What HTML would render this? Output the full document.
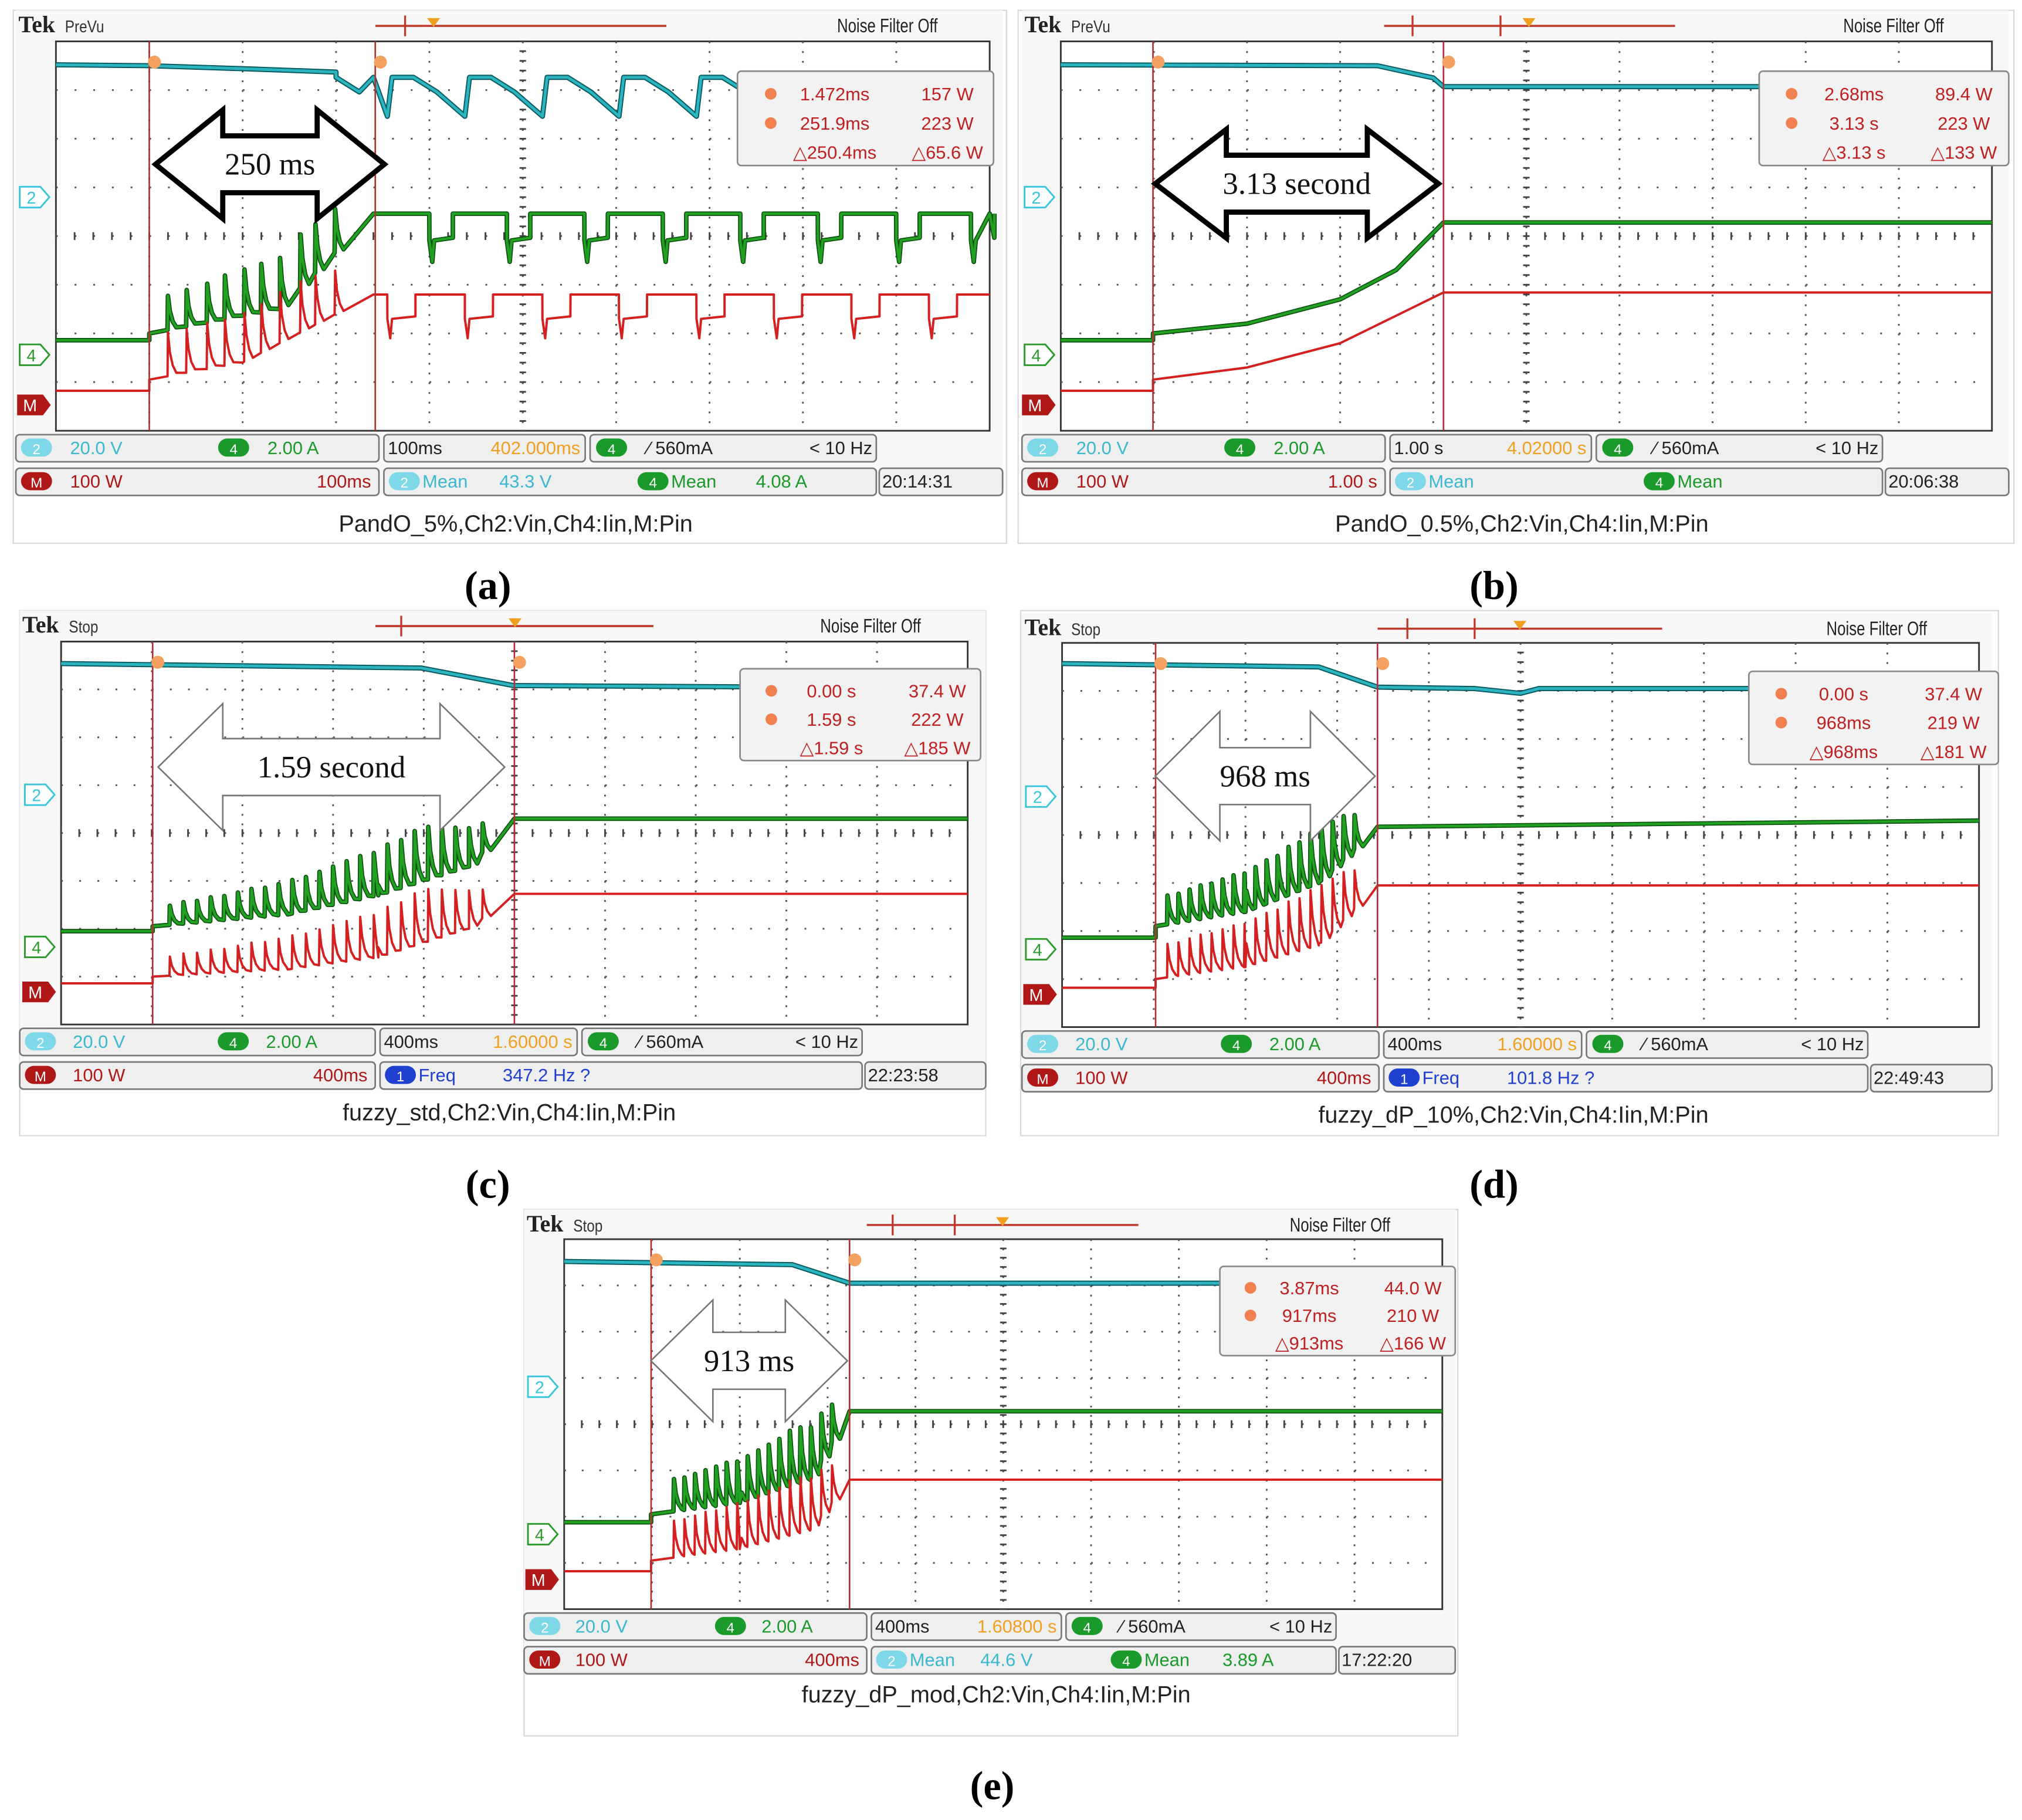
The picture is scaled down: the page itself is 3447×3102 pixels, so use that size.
<!DOCTYPE html>
<html><head><meta charset="utf-8">
<style>
html,body{margin:0;padding:0;background:#fff;}
svg{display:block;}
text{font-family:"Liberation Sans",sans-serif;}
text.serif{font-family:"Liberation Serif",serif;}
</style></head>
<body>
<svg id="fig" width="3447" height="3102" viewBox="0 0 1563 1407" xmlns="http://www.w3.org/2000/svg"></svg>
<script>
// ---------- DATA (time in divisions, level in divisions from top of graticule) ----------
const aCyanT=[0,1.0,2.0,3.0,3.4];           const aCyanV=[0.48,0.5,0.56,0.63,0.74];
const aCyanTroughs=[3.55,4.38,5.21,6.03,6.86,7.69,8.52,9.35];
const aGreenT=[0,1.0,1.0,2.4,3.4,10];       const aGreenV=[6.14,6.14,6.0,5.5,3.54,3.54];
const aGreenDips=[4.0,4.83,5.66,6.5,7.33,8.16,9.0,9.8];
const aRedT=[0,1.0,1.0,2.0,3.4,10];          const aRedV=[7.18,7.18,6.95,6.6,5.2,5.2];
const aRedDips=[3.55,4.38,5.21,6.03,6.86,7.69,8.52,9.35];
const aSpikeT=[1.2,1.4,1.62,1.81,2.02,2.2,2.4,2.62,2.78,2.99];
const aGreenSpikeA=[0.7,0.75,0.8,0.9,0.95,1.0,1.05,1.1,1.0,0.9];
const aRedSpikeA=[0.9,0.9,0.95,0.95,1.0,1.0,1.05,1.05,1.0,0.9];

const bCyanT=[0,3.4,4.0,4.11,10];            const bCyanV=[0.48,0.5,0.75,0.93,0.93];
const bGreenT=[0,0.99,0.99,2.0,3.0,3.6,4.11,10]; const bGreenV=[6.14,6.14,6.0,5.8,5.3,4.7,3.72,3.72];
const bRedT=[0,0.99,0.99,2.0,3.0,4.11,10];   const bRedV=[7.18,7.18,6.95,6.7,6.2,5.16,5.16];

const cCyanT=[0,3.97,4.99,10];               const cCyanV=[0.46,0.55,0.92,0.97];
const cGreenT=[0,1.01,1.01,2.5,3.5,4.5,5.0,10]; const cGreenV=[6.05,6.05,5.95,5.7,5.3,4.7,3.70,3.70];
const cRedT=[0,1.01,1.01,2.5,3.5,4.5,5.0,10];   const cRedV=[7.14,7.14,7.0,6.85,6.6,6.0,5.27,5.27];
const cSpikeT=[1.2,1.35,1.5,1.65,1.8,1.95,2.1,2.25,2.4,2.55,2.7,2.85,3.0,3.15,3.3,3.45,3.6,3.75,3.9,4.05,4.2,4.35,4.5,4.65];
const cGreenSpikeA=[0.4,0.45,0.45,0.5,0.5,0.55,0.6,0.6,0.65,0.7,0.7,0.75,0.8,0.85,0.9,0.9,1.0,1.0,1.1,1.1,1.0,0.9,0.8,0.6];
const cRedSpikeA=[0.4,0.45,0.45,0.5,0.5,0.55,0.6,0.6,0.65,0.7,0.7,0.75,0.8,0.85,0.9,0.9,1.0,1.0,1.1,1.1,1.0,0.9,0.8,0.6];

const dCyanT=[0,2.8,3.44,4.5,5.0,5.2,10];    const dCyanV=[0.43,0.5,0.92,0.95,1.05,0.95,0.95];
const dGreenT=[0,1.02,1.02,2.0,2.8,3.44,10]; const dGreenV=[6.14,6.14,5.9,5.6,5.0,3.83,3.7];
const dRedT=[0,1.02,1.02,2.0,2.8,3.44,10];   const dRedV=[7.18,7.18,7.0,6.75,6.3,5.05,5.05];
const dSpikeT=[1.15,1.27,1.39,1.51,1.63,1.75,1.87,1.99,2.11,2.23,2.35,2.47,2.59,2.71,2.83,2.95,3.07,3.19];
const dGreenSpikeA=[0.6,0.6,0.65,0.7,0.7,0.75,0.8,0.8,0.85,0.9,0.9,1.0,1.0,1.1,1.1,1.0,0.9,0.7];
const dRedSpikeA=[0.7,0.7,0.75,0.8,0.8,0.85,0.9,0.9,0.95,1.0,1.0,1.1,1.1,1.2,1.2,1.1,1.0,0.8];

const eCyanT=[0,2.6,3.25,10];                const eCyanV=[0.48,0.55,0.95,0.95];
const eGreenT=[0,0.99,0.99,2.0,2.8,3.25,10]; const eGreenV=[6.12,6.12,5.95,5.7,5.2,3.72,3.72];
const eRedT=[0,0.99,0.99,2.0,2.8,3.25,10];   const eRedV=[7.18,7.18,6.95,6.7,6.3,5.2,5.2];
const eSpikeT=[1.25,1.37,1.49,1.61,1.73,1.85,1.97,2.09,2.21,2.33,2.45,2.57,2.69,2.81,2.93,3.05];
const eGreenSpikeA=[0.7,0.7,0.75,0.8,0.85,0.9,0.9,0.95,1.0,1.05,1.1,1.2,1.2,1.1,1.0,0.8];
const eRedSpikeA=[0.8,0.8,0.85,0.9,0.9,0.95,1.0,1.0,1.05,1.1,1.1,1.2,1.2,1.1,1.0,0.8];

// ---------- helpers ----------
const NS="http://www.w3.org/2000/svg";
const svg=document.getElementById('fig');
function el(tag,attrs,name,inter,parent){
  const e=document.createElementNS(NS,tag);
  for(const k in attrs) e.setAttribute(k,attrs[k]);
  
  
  (parent||svg).appendChild(e);
  return e;
}
function txt(x,y,s,attrs,name,parent){
  const t=el('text',Object.assign({x:x,y:y},attrs),name,false,parent);
  t.textContent=s; return t;
}
function interp(T,V,t){
  if(t<=T[0])return V[0];
  for(let i=1;i<T.length;i++){ if(t<=T[i]){const d=T[i]-T[i-1]; if(d<=0)return V[i]; return V[i-1]+(V[i]-V[i-1])*(t-T[i-1])/d;} }
  return V[V.length-1];
}

const panels=[
 {id:'a',frame:[10,8,768,412],ox:12,ow:763,gx:43,gy:32,gw:722,gh:301,hy:20,mode:'PreVu',trig:[290,515],trigMarks:[313],trigOr:335,
  cur:[1.0,3.42],cyan:[aCyanT,aCyanV],green:[aGreenT,aGreenV],red:[aRedT,aRedV],spT:aSpikeT,gA:aGreenSpikeA,rA:aRedSpikeA,
  saw:aCyanTroughs,gDips:aGreenDips,rDips:aRedDips,
  info:['20.0 V','2.00 A','100ms','402.000ms','560mA','< 10 Hz','100 W','100ms','Mean','43.3 V','Mean','4.08 A','20:14:31'],
  ro:[570,55,198,73],roT:[['1.472ms','157 W'],['251.9ms','223 W'],['\u25B3250.4ms','\u25B365.6 W']],
  arrow:[120,297,127,42,22,52,'250 ms',1],cap:'PandO_5%,Ch2:Vin,Ch4:Iin,M:Pin',capY:411,lab:'(a)',labX:377,labY:463,ch:[3.2,6.44,7.47]},
 {id:'b',frame:[787,8,770,412],ox:790,ow:763,gx:820,gy:32,gw:720,gh:301,hy:20,mode:'PreVu',trig:[1070,1295],trigMarks:[1092,1160],trigOr:1182,
  cur:[0.99,4.11],cyan:[bCyanT,bCyanV],green:[bGreenT,bGreenV],red:[bRedT,bRedV],spT:[],gA:[],rA:[],saw:null,gDips:[],rDips:[],
  info:['20.0 V','2.00 A','1.00 s','4.02000 s','560mA','< 10 Hz','100 W','1.00 s','Mean','','Mean','','20:06:38'],
  ro:[1360,55,193,73],roT:[['2.68ms','89.4 W'],['3.13 s','223 W'],['\u25B33.13 s','\u25B3133 W']],
  arrow:[893,1112,142,42,22,55,'3.13 second',1],cap:'PandO_0.5%,Ch2:Vin,Ch4:Iin,M:Pin',capY:411,lab:'(b)',labX:1155,labY:463,ch:[3.2,6.44,7.47]},
 {id:'c',frame:[15,472,747,406],ox:15,ow:747,gx:47,gy:496,gw:701,gh:296,hy:484,mode:'Stop',trig:[290,505],trigMarks:[310],trigOr:398,
  cur:[1.01,5.0],cyan:[cCyanT,cCyanV],green:[cGreenT,cGreenV],red:[cRedT,cRedV],spT:cSpikeT,gA:cGreenSpikeA,rA:cRedSpikeA,saw:null,gDips:[],rDips:[],
  info:['20.0 V','2.00 A','400ms','1.60000 s','560mA','< 10 Hz','100 W','400ms','Freq','347.2 Hz  ?','','','22:23:58'],
  ro:[572,517,186,71],roT:[['0.00 s','37.4 W'],['1.59 s','222 W'],['\u25B31.59 s','\u25B3185 W']],
  arrow:[122,390,593,49,22,50,'1.59 second',0],cap:'fuzzy_std,Ch2:Vin,Ch4:Iin,M:Pin',capY:866,lab:'(c)',labX:377,labY:926,ch:[3.2,6.38,7.32]},
 {id:'d',frame:[789,472,756,406],ox:790,ow:750,gx:821,gy:497,gw:709,gh:297,hy:486,mode:'Stop',trig:[1065,1285],trigMarks:[1088,1140],trigOr:1175,
  cur:[1.02,3.44],cyan:[dCyanT,dCyanV],green:[dGreenT,dGreenV],red:[dRedT,dRedV],spT:dSpikeT,gA:dGreenSpikeA,rA:dRedSpikeA,saw:null,gDips:[],rDips:[],
  info:['20.0 V','2.00 A','400ms','1.60000 s','560mA','< 10 Hz','100 W','400ms','Freq','101.8 Hz  ?','','','22:49:43'],
  ro:[1352,519,193,72],roT:[['0.00 s','37.4 W'],['968ms','219 W'],['\u25B3968ms','\u25B3181 W']],
  arrow:[893,1063,600,50,22,50,'968 ms',0],cap:'fuzzy_dP_10%,Ch2:Vin,Ch4:Iin,M:Pin',capY:868,lab:'(d)',labX:1155,labY:926,ch:[3.2,6.38,7.32]},
 {id:'e',frame:[405,935,722,407],ox:405,ow:720,gx:436,gy:958,gw:679,gh:286,hy:947,mode:'Stop',trig:[670,880],trigMarks:[690,738],trigOr:775,
  cur:[0.99,3.25],cyan:[eCyanT,eCyanV],green:[eGreenT,eGreenV],red:[eRedT,eRedV],spT:eSpikeT,gA:eGreenSpikeA,rA:eRedSpikeA,saw:null,gDips:[],rDips:[],
  info:['20.0 V','2.00 A','400ms','1.60800 s','560mA','< 10 Hz','100 W','400ms','Mean','44.6 V','Mean','3.89 A','17:22:20'],
  ro:[943,979,182,69],roT:[['3.87ms','44.0 W'],['917ms','210 W'],['\u25B3913ms','\u25B3166 W']],
  arrow:[503,655,1052,47,22,48,'913 ms',0],cap:'fuzzy_dP_mod,Ch2:Vin,Ch4:Iin,M:Pin',capY:1316,lab:'(e)',labX:767,labY:1391,ch:[3.19,6.38,7.36]}
];

function buildTrace(T,V,spT,spA,dips,dipDepth,dipW,saw,sx,sy){
  const base=t=>interp(T,V,t);
  const segs=[];
  spT.forEach((t,i)=>{segs.push([t,'spike',spA[i]]);});
  dips.forEach(t=>segs.push([t,'dip']));
  if(saw) saw.forEach(t=>segs.push([t,'saw']));
  const all=[];
  T.forEach((t,i)=>all.push([t,V[i]]));
  segs.forEach(s=>{
    const t=s[0];
    if(s[1]==='spike'){
      const b=base(t);
      all.push([t-0.005,b]);all.push([t,b-s[2]]);all.push([t+0.02,b-s[2]*0.55]);all.push([t+0.05,b-s[2]*0.25]);all.push([t+0.09,b-s[2]*0.08]);
    }else if(s[1]==='dip'){
      const b=base(t);
      all.push([t-0.001,b]);all.push([t,b+dipDepth]);all.push([t+0.03,b+dipDepth*1.8]);all.push([t+0.05,b+dipDepth]);all.push([t+dipW,b+dipDepth*0.9]);all.push([t+dipW+0.001,b]);
    }else{
      const top=0.74;
      all.push([t-0.55,top]);all.push([t-0.3,top+0.3]);all.push([t,top+0.8]);all.push([t+0.05,top]);
    }
  });
  all.sort((a,b)=>a[0]-b[0]);
  return all.map(p=>sx(p[0]).toFixed(1)+','+sy(p[1]).toFixed(1)).join(' ');
}

function drawPanel(p){
  const g=el('g',{},'panel-'+p.id,false);
  const [fx,fy,fw,fh]=p.frame;
  el('rect',{x:fx,y:fy,width:fw,height:fh,fill:'#fff',stroke:'#d8d8d8','stroke-width':1},'panel-frame',false,g);
  const dx=p.gw/10, dy=p.gh/8;
  const sx=t=>p.gx+t*dx, sy=v=>p.gy+v*dy;
  el('rect',{x:p.ox,y:p.hy-12,width:p.ow,height:p.gy+p.gh-p.hy+62,fill:'#f7f7f7'},'scope-screen',false,g);
  // header
  txt(p.ox+2,p.hy+5,'Tek',{'class':'serif','font-size':18,'font-weight':'bold',fill:'#222'},'tek-logo',g);
  txt(p.ox+38,p.hy+5,p.mode,{'font-size':13,fill:'#333',transform:`translate(${p.ox+38},0) scale(0.85,1) translate(${-(p.ox+38)},0)`},'acquisition-status',g);
  el('line',{x1:p.trig[0],y1:p.hy,x2:p.trig[1],y2:p.hy,stroke:'#c0392b','stroke-width':1.6},'trigger-position-bar',false,g);
  p.trigMarks.forEach((m,i)=>{el('line',{x1:m,y1:p.hy-8,x2:m,y2:p.hy+8,stroke:'#c0392b','stroke-width':1.5},'trigger-mark',false,g);});
  el('path',{d:`M${p.trigOr-5} ${p.hy-6} L${p.trigOr+5} ${p.hy-6} L${p.trigOr} ${p.hy+1}Z`,fill:'#f0a020'},'trigger-point-marker',false,g);
  const nx=p.ox+p.ow-128;
  txt(nx,p.hy+5,'Noise Filter Off',{'font-size':15,fill:'#222',transform:`translate(${nx},0) scale(0.78,1) translate(${-nx},0)`},'noise-filter-status',g);
  // graticule
  el('rect',{x:p.gx,y:p.gy,width:p.gw,height:p.gh,fill:'#fff',stroke:'#333','stroke-width':1.3},'graticule',false,g);
  for(let i=1;i<10;i++){
    el('line',{x1:sx(i),y1:p.gy,x2:sx(i),y2:p.gy+p.gh,stroke:'#555','stroke-width':1.3,'stroke-dasharray':`1.4 ${(dy/5-1.4).toFixed(2)}`},'grid-vline',false,g);
  }
  for(let j=1;j<8;j++){
    el('line',{x1:p.gx,y1:sy(j),x2:p.gx+p.gw,y2:sy(j),stroke:'#555','stroke-width':1.3,'stroke-dasharray':`1.4 ${(dx/5-1.4).toFixed(2)}`},'grid-hline',false,g);
  }
  for(let k=0;k<=50;k++){const x=p.gx+k*dx/5;el('line',{x1:x,y1:sy(4)-3,x2:x,y2:sy(4)+3,stroke:'#444','stroke-width':1.3},'center-tick',false,g);}
  for(let k=0;k<=40;k++){const y=p.gy+k*dy/5;el('line',{x1:sx(5)-2.5,y1:y,x2:sx(5)+2.5,y2:y,stroke:'#444','stroke-width':1.3},'center-tick',false,g);}
  // traces
  const cy=buildTrace(p.cyan[0],p.cyan[1],[],[],[],0,0,p.saw,sx,sy);
  el('polyline',{points:cy,fill:'none',stroke:'#0b5a60','stroke-width':4,'stroke-linejoin':'round'},'ch2-vin-trace-shadow',false,g);
  el('polyline',{points:cy,fill:'none',stroke:'#2bb5c0','stroke-width':2.2,'stroke-linejoin':'round'},'ch2-vin-trace',false,g);
  const gr=buildTrace(p.green[0],p.green[1],p.spT,p.gA,p.gDips,0.55,0.25,null,sx,sy);
  el('polyline',{points:gr,fill:'none',stroke:'#0c4d10','stroke-width':3.5,'stroke-linejoin':'round'},'ch4-iin-trace-shadow',false,g);
  el('polyline',{points:gr,fill:'none',stroke:'#21a021','stroke-width':2,'stroke-linejoin':'round'},'ch4-iin-trace',false,g);
  const rd=buildTrace(p.red[0],p.red[1],p.spT,p.rA,p.rDips,0.5,0.3,null,sx,sy);
  el('polyline',{points:rd,fill:'none',stroke:'#d42020','stroke-width':1.8,'stroke-linejoin':'round'},'math-pin-trace',false,g);
  // cursors
  p.cur.forEach((c,i)=>{
    el('line',{x1:sx(c),y1:p.gy,x2:sx(c),y2:p.gy+p.gh,stroke:'#b03030','stroke-width':1.2},'cursor-line-'+(i?'b':'a'),true,g);
    el('circle',{cx:sx(c)+4,cy:p.gy+16,r:5,fill:'#f4a060'},'cursor-marker-'+(i?'b':'a'),true,g);
  });
  // channel markers
  const chs=[['2','#38c5d8',p.ch[0]],['4','#2a9a2a',p.ch[1]],['M','#b01818',p.ch[2]]];
  chs.forEach((c,i)=>{
    const y=sy(c[2]), x=p.gx-30;
    if(c[0]==='M'){
      el('path',{d:`M${x} ${y-8} L${x+20} ${y-8} L${x+26} ${y} L${x+20} ${y+8} L${x} ${y+8}Z`,fill:c[1]},'math-marker',false,g);
      txt(x+10,y+5,'M',{'font-size':13,fill:'#fff','text-anchor':'middle'},'math-marker-label',g);
    }else{
      el('path',{d:`M${x+2} ${y-8} L${x+18} ${y-8} L${x+25} ${y} L${x+18} ${y+8} L${x+2} ${y+8}Z`,fill:'#fff',stroke:c[1],'stroke-width':1.3},'channel-'+c[0]+'-marker',false,g);
      txt(x+11,y+5,c[0],{'font-size':13,fill:c[1],'text-anchor':'middle'},'channel-'+c[0]+'-marker-label',g);
    }
  });
  // readout
  const [rx,ry,rw,rh]=p.ro;
  el('rect',{x:rx,y:ry,width:rw,height:rh,fill:'#f2f2f2',stroke:'#888','stroke-width':1.2,rx:3},'cursor-readout-box',false,g);
  p.roT.forEach((r,i)=>{
    const yy=ry+rh*(0.24+i*0.31)+5;
    if(i<2){el('circle',{cx:rx+rw*0.13,cy:yy-5,r:4.5,fill:'#f08050'},'readout-cursor-icon',false,g);}
    txt(rx+rw*0.38,yy,r[0],{'font-size':14,fill:'#c02020','text-anchor':'middle'},'readout-time',g);
    txt(rx+rw*0.82,yy,r[1],{'font-size':14,fill:'#c02020','text-anchor':'middle'},'readout-power',g);
  });
  // arrow
  const [x1,x2,yc,H,h,L,lab,bold]=p.arrow;
  const d=`M${x1} ${yc} L${x1+L} ${yc-H} L${x1+L} ${yc-h} L${x2-L} ${yc-h} L${x2-L} ${yc-H} L${x2} ${yc} L${x2-L} ${yc+H} L${x2-L} ${yc+h} L${x1+L} ${yc+h} L${x1+L} ${yc+H}Z`;
  el('path',{d:d,fill:'#fff',stroke:bold?'#000':'#777','stroke-width':bold?4:1.2,'stroke-linejoin':'miter'},'duration-arrow',false,g);
  txt((x1+x2)/2,yc+8,lab,{'class':'serif','font-size':24,fill:'#111','text-anchor':'middle'},'duration-label',g);
  // info boxes
  const ob=p.ox, W=p.ow, r1=p.gy+p.gh+3, r2=r1+26, bh=21;
  const fr=f=>ob+W*f;
  const boxes=[[0,0.368,r1],[0.373,0.577,r1],[0.582,0.872,r1],[0,0.368,r2],[0.373,0.872,r2],[0.875,1,r2]];
  boxes.forEach(b=>el('rect',{x:fr(b[0]),y:b[2],width:fr(b[1])-fr(b[0]),height:bh,fill:'#efefef',stroke:'#777','stroke-width':1.2,rx:3},'info-box',false,g));
  const I=p.info, ty1=r1+15, ty2=r2+15;
  const badge=(x,y,col,lbl,nm)=>{el('rect',{x:x,y:y-12,width:24,height:14,rx:7,fill:col},nm,false,g);txt(x+12,y,lbl,{'font-size':11,fill:'#fff','text-anchor':'middle'},nm+'-label',g);};
  badge(fr(0)+4,ty1,'#7fd8e8','2','ch2-badge');
  txt(fr(0.055),ty1,I[0],{'font-size':14,fill:'#3ab8d0'},'ch2-scale',g);
  badge(fr(0.205),ty1,'#1a9a2a','4','ch4-badge');
  txt(fr(0.255),ty1,I[1],{'font-size':14,fill:'#1a9a2a'},'ch4-scale',g);
  txt(fr(0.377),ty1,I[2],{'font-size':14,fill:'#222'},'timebase',g);
  txt(fr(0.572),ty1,I[3],{'font-size':14,fill:'#f0a020','text-anchor':'end'},'trigger-position',g);
  badge(fr(0.588),ty1,'#1a9a2a','4','trigger-source-badge');
  txt(fr(0.64),ty1,'\u2215 '+I[4],{'font-size':14,fill:'#222'},'trigger-level',g);
  txt(fr(0.868),ty1,I[5],{'font-size':14,fill:'#222','text-anchor':'end'},'trigger-frequency',g);
  badge(fr(0)+4,ty2,'#b01818','M','math-badge');
  txt(fr(0.055),ty2,I[6],{'font-size':14,fill:'#b01818'},'math-scale',g);
  txt(fr(0.36),ty2,I[7],{'font-size':14,fill:'#b01818','text-anchor':'end'},'math-timebase',g);
  if(I[8]==='Mean'){
    badge(fr(0.378),ty2,'#7fd8e8','2','mean-ch2-badge');
    txt(fr(0.378)+26,ty2,'Mean',{'font-size':14,fill:'#3ab8d0'},'mean-ch2-label',g);
    txt(fr(0.49),ty2,I[9],{'font-size':14,fill:'#3ab8d0'},'mean-ch2-value',g);
    badge(fr(0.63),ty2,'#1a9a2a','4','mean-ch4-badge');
    txt(fr(0.63)+26,ty2,'Mean',{'font-size':14,fill:'#1a9a2a'},'mean-ch4-label',g);
    txt(fr(0.75),ty2,I[11],{'font-size':14,fill:'#1a9a2a'},'mean-ch4-value',g);
  }else{
    badge(fr(0.378),ty2,'#2040d0','1','freq-badge');
    txt(fr(0.378)+26,ty2,'Freq',{'font-size':14,fill:'#2040d0'},'freq-label',g);
    txt(fr(0.5),ty2,I[9],{'font-size':14,fill:'#2040d0'},'freq-value',g);
  }
  txt(fr(0.878),ty2,I[12],{'font-size':14,fill:'#222'},'clock-time',g);
  // caption
  txt(p.ox+p.ow/2+5,p.capY,p.cap,{'font-size':18,fill:'#222','text-anchor':'middle'},'panel-caption',g);
  txt(p.labX,p.labY,p.lab,{'class':'serif','font-size':31,'font-weight':'bold',fill:'#000','text-anchor':'middle'},'panel-label',g);
}
panels.forEach(drawPanel);
</script>
</body></html>
